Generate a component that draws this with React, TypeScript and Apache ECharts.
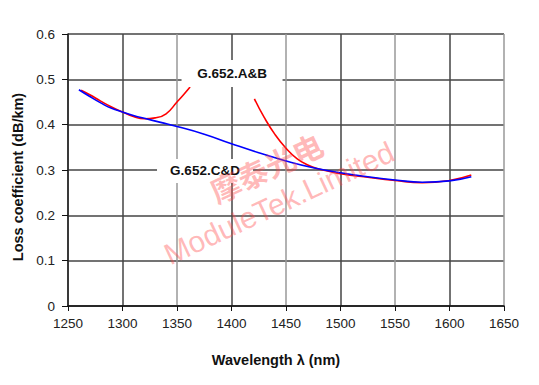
import React, { useEffect, useRef } from "react";
import * as echarts from "echarts";

const xTicks = [1250, 1300, 1350, 1400, 1450, 1500, 1550, 1600, 1650];
const yTicks = [0, 0.1, 0.2, 0.3, 0.4, 0.5, 0.6];

const blueX = [1260, 1270, 1280, 1290, 1300, 1310, 1320, 1335, 1350, 1375, 1400, 1425, 1450, 1475, 1500, 1525, 1550, 1575, 1600, 1620];
const blueY = [0.477, 0.462, 0.448, 0.436, 0.428, 0.42, 0.414, 0.405, 0.396, 0.379, 0.358, 0.338, 0.32, 0.305, 0.294, 0.285, 0.278, 0.273, 0.276, 0.285];

const redAX = [1262, 1270, 1280, 1290, 1300, 1310, 1320, 1330, 1340, 1350, 1356, 1362];
const redAY = [0.476, 0.466, 0.452, 0.439, 0.428, 0.418, 0.413, 0.415, 0.424, 0.45, 0.466, 0.483];

const redBX = [1421, 1430, 1440, 1450, 1460, 1470, 1480, 1490, 1500, 1525, 1550, 1575, 1600, 1620];
const redBY = [0.457, 0.416, 0.378, 0.348, 0.325, 0.311, 0.302, 0.297, 0.292, 0.284, 0.277, 0.272, 0.277, 0.289];

const labelAB = { text: "G.652.A&B", x: 1400.5, y: 0.513 };
const labelCD = { text: "G.652.C&D", x: 1375.7, y: 0.298 };

const FONT = "'Liberation Sans', Arial, sans-serif";

function pairs(xs: number[], ys: number[]) {
  return xs.map((x, i) => [x, ys[i]]);
}

export default function App() {
  const ref = useRef<HTMLDivElement>(null);
  useEffect(() => {
    if (!ref.current) return;
    const chart = echarts.init(ref.current, undefined, { renderer: "svg" });
    chart.setOption({
      animation: false,
      backgroundColor: "#ffffff",
      grid: { left: 68, right: 35, top: 34, bottom: 79, containLabel: false },
      xAxis: {
        type: "value",
        min: xTicks[0],
        max: xTicks[xTicks.length - 1],
        interval: 50,
        name: "Wavelength λ (nm)",
        nameLocation: "middle",
        nameGap: 46,
        nameTextStyle: { fontFamily: FONT, fontSize: 14.5, fontWeight: "bold", color: "#111", padding: [0, 20, 0, 0] },
        axisLine: { show: true, lineStyle: { color: "#111", width: 1.5 } },
        axisTick: { show: true, length: 5, lineStyle: { color: "#111" } },
        axisLabel: { fontFamily: FONT, fontSize: 13.5, color: "#222", margin: 10, formatter: (v: number) => String(v) },
        splitLine: { show: true, lineStyle: { color: ["#999", "#444"], width: 1.5 } },
      },
      yAxis: {
        type: "value",
        min: yTicks[0],
        max: yTicks[yTicks.length - 1],
        interval: 0.1,
        name: "Loss coefficient (dB/km)",
        nameLocation: "middle",
        nameGap: 42,
        nameTextStyle: { fontFamily: FONT, fontSize: 14.5, fontWeight: "bold", color: "#111", padding: [0, 14, 0, 0] },
        axisLine: { show: true, lineStyle: { color: "#111", width: 1.5 } },
        axisTick: { show: true, length: 6, lineStyle: { color: "#111" } },
        axisLabel: { fontFamily: FONT, fontSize: 13.5, color: "#222", margin: 13, formatter: (v: number) => (v === 0 ? "0" : String(+v.toFixed(1))) },
        splitLine: { show: true, lineStyle: { color: "#444", width: 1.5 } },
      },
      series: [
        {
          type: "line",
          name: "C&D",
          data: pairs(blueX, blueY),
          smooth: true,
          showSymbol: false,
          lineStyle: { color: "#0000ff", width: 1.6 },
          z: 3,
          markPoint: {
            symbol: "rect",
            symbolSize: [96, 24],
            itemStyle: { color: "#ffffff" },
            label: { show: true, color: "#111", fontFamily: FONT, fontSize: 13.5, fontWeight: "bold", formatter: "{b}" },
            data: [
              { name: labelCD.text, coord: [labelCD.x, labelCD.y] },
              { name: labelAB.text, coord: [labelAB.x, labelAB.y], symbolSize: [101, 27] },
            ],
          },
        },
        {
          type: "line",
          name: "A&B 1",
          data: pairs(redAX, redAY),
          smooth: true,
          showSymbol: false,
          lineStyle: { color: "#ff0000", width: 1.6 },
          z: 2,
        },
        {
          type: "line",
          name: "A&B 2",
          data: pairs(redBX, redBY),
          smooth: true,
          showSymbol: false,
          lineStyle: { color: "#ff0000", width: 1.6 },
          z: 2,
        },
      ],
      graphic: [
        {
          type: "text",
          x: 266,
          y: 167,
          rotation: (25 * Math.PI) / 180,
          z: 100,
          style: {
            text: "摩泰光电",
            fontFamily: "'Noto Sans CJK SC', sans-serif",
            fontSize: 30,
            fontWeight: "bold",
            fill: "rgba(255, 70, 70, 0.38)",
            align: "center",
            verticalAlign: "middle",
          },
        },
        {
          type: "text",
          x: 279,
          y: 203,
          rotation: (25 * Math.PI) / 180,
          z: 100,
          style: {
            text: "ModuleTek.Limited",
            fontFamily: FONT,
            fontSize: 30,
            fill: "rgba(255, 70, 70, 0.38)",
            align: "center",
            verticalAlign: "middle",
          },
        },
      ],
    });
    return () => chart.dispose();
  }, []);
  return <div ref={ref} style={{ width: 539, height: 385, position: "absolute", left: 0, top: 0 }} />;
}
